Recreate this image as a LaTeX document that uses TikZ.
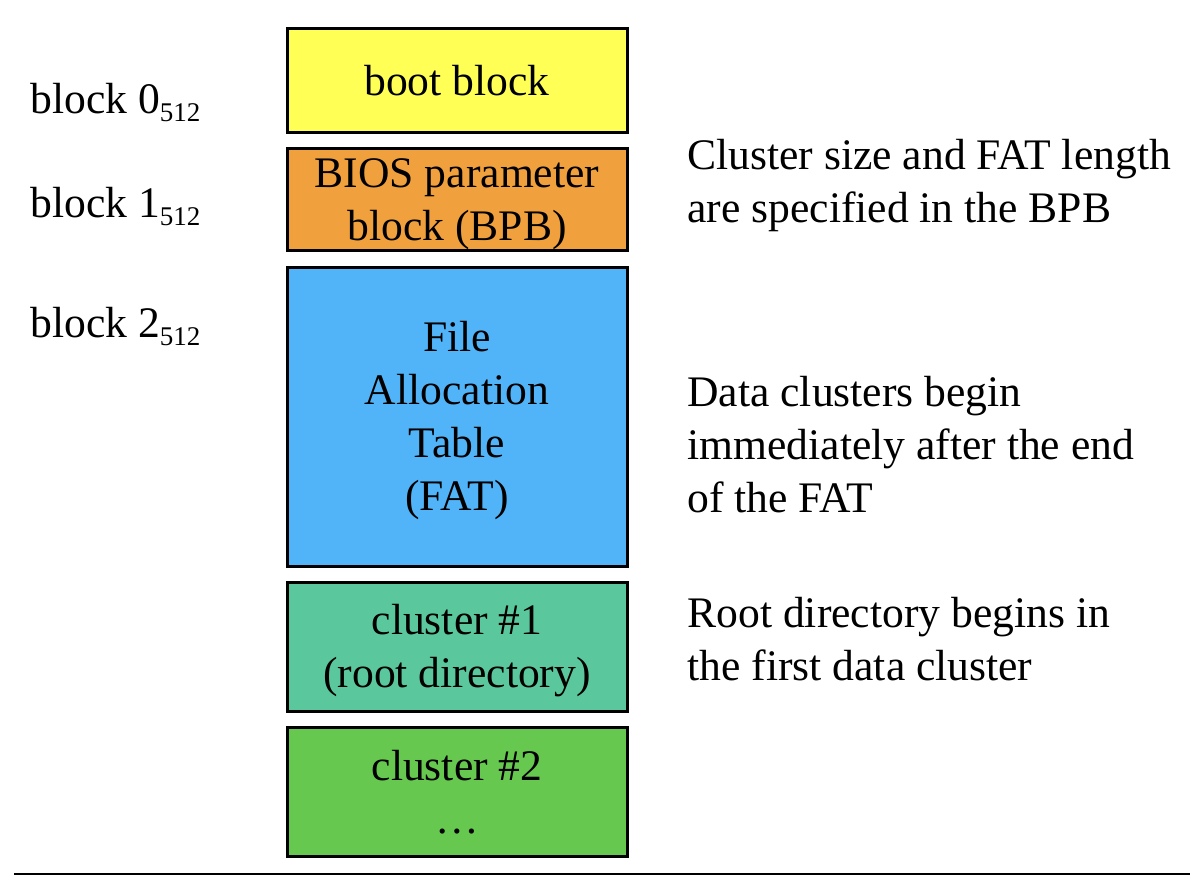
\documentclass[tikz,border=0pt]{standalone}
\usepackage{fontspec}
\setmainfont{Liberation Serif}
\definecolor{bootyellow}{HTML}{FFFF55}
\definecolor{bpborange}{HTML}{F0A03C}
\definecolor{fatblue}{HTML}{52B4F8}
\definecolor{rootteal}{HTML}{5AC89C}
\definecolor{datagreen}{HTML}{66C84F}
\newcommand{\blocklabel}[1]{block #1\raisebox{-4pt}{\fontsize{13.5}{14}\selectfont 512}}
\newcommand{\tallstrut}{\rule{0pt}{19pt}}
\tikzset{
    fsbox/.style={draw,line width=1.5pt,minimum width=170pt,inner sep=0pt,align=center},
    note/.style={anchor=base west,inner sep=0pt,align=left}
}
\begin{document}
\fontsize{21.8}{26.5}\selectfont
\begin{tikzpicture}[x=0.5pt,y=-0.5pt]
    \useasboundingbox (0,0) rectangle (1190,880);
\node[fsbox,fill=bootyellow,minimum height=52pt] (boot) at (457,80.5) {boot block};
\node[fsbox,fill=bpborange,minimum height=51pt] (bpb) at (457,199.5) {\tallstrut BIOS parameter\\block (BPB)};
\node[fsbox,fill=fatblue,minimum height=149.5pt] (fat) at (457,417) {\tallstrut File\\Allocation\\Table\\(FAT)};
\node[fsbox,fill=rootteal,minimum height=64.5pt] (clusterone) at (457,647) {\tallstrut cluster \#1\\(root directory)};
\node[fsbox,fill=datagreen,minimum height=64.5pt] (clustertwo) at (457,792) {cluster \#2\\\dots};
\node[note] (blk0) at (30,113) {\blocklabel{0}};
\node[note] (blk1) at (30,217) {\blocklabel{1}};
\node[note] (blk2) at (30,337) {\blocklabel{2}};
% base of a note is its last line
\node[note] (bpbnote) at (687,222) {Cluster size and FAT length\\are specified in the BPB};
\node[note] (datanote) at (687,512) {Data clusters begin\\immediately after the end\\of the FAT};
\node[note] (rootnote) at (687,680) {Root directory begins in\\the first data cluster};
\coordinate (rulestart) at (14,874);
\coordinate (ruleend) at (1190,874);
\draw[line width=1pt] (rulestart)--(ruleend);
    \end{tikzpicture}
\end{document}
